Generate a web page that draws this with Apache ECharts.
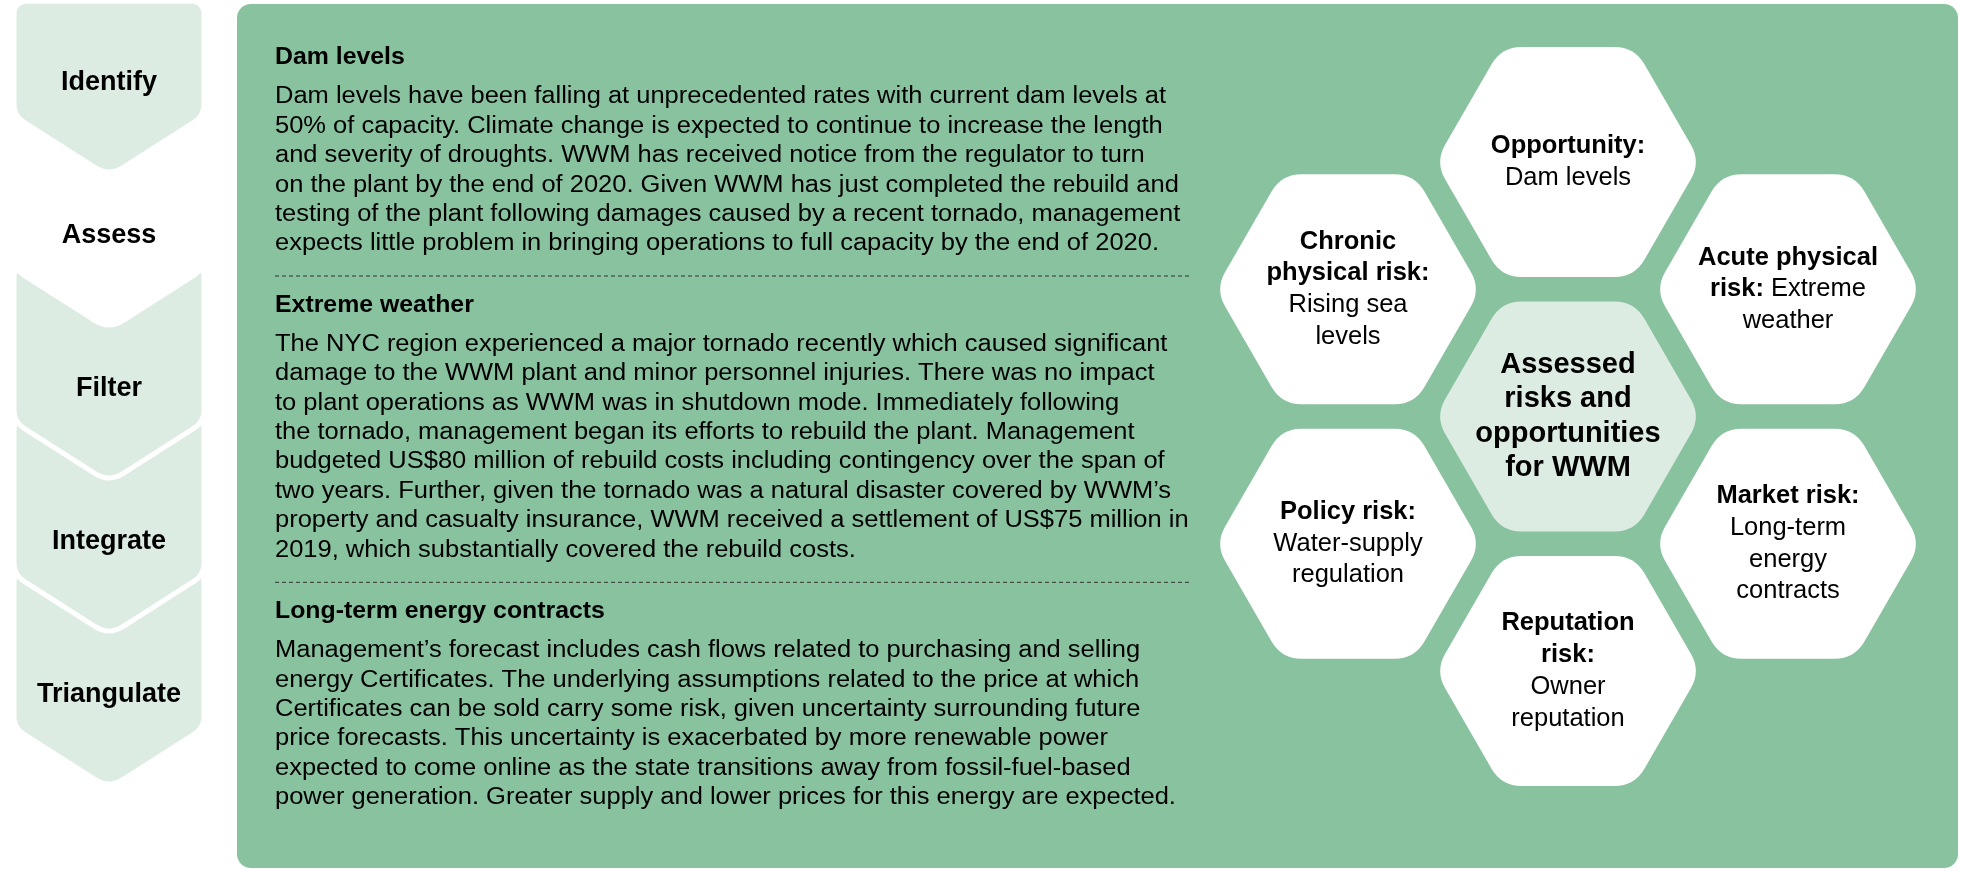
<!DOCTYPE html>
<html>
<head>
<meta charset="utf-8">
<title>Assessed risks and opportunities for WWM</title>
<script src="https://cdn.jsdelivr.net/npm/echarts@6/dist/echarts.min.js"></script>
<style>
  html, body { margin: 0; padding: 0; background: #fff; }
  #main { width: 1963px; height: 870px; }
</style>
</head>
<body>
<div id="main"></div>
<script>
// process steps down the left side, the current one is drawn white
const steps = ['Identify', 'Assess', 'Filter', 'Integrate', 'Triangulate'];
const activeStep = 'Assess';

// honeycomb cells: column and row (side columns sit on half rows)
const hexCols = [0, 0, -1, 1, -1, 1, 0];
const hexRows = [0, -1, -0.5, -0.5, 0.5, 0.5, 1];
const hexLabels = [
  '{c|Assessed}\n{c|risks and}\n{c|opportunities}\n{c|for WWM}',
  '{b|Opportunity:}\n{r|Dam levels}',
  '{b|Chronic}\n{b|physical risk:}\n{r|Rising sea}\n{r|levels}',
  '{b|Acute physical}\n{b|risk:}{r| Extreme}\n{r|weather}',
  '{b|Policy risk:}\n{r|Water-supply}\n{r|regulation}',
  '{b|Market risk:}\n{r|Long-term}\n{r|energy}\n{r|contracts}',
  '{b|Reputation}\n{b|risk:}\n{r|Owner}\n{r|reputation}'
];

const sectionTitles = ['Dam levels', 'Extreme weather', 'Long-term energy contracts'];
const sectionLines = [
  [
    'Dam levels have been falling at unprecedented rates with current dam levels at',
    '50% of capacity. Climate change is expected to continue to increase the length',
    'and severity of droughts. WWM has received notice from the regulator to turn',
    'on the plant by the end of 2020. Given WWM has just completed the rebuild and',
    'testing of the plant following damages caused by a recent tornado, management',
    'expects little problem in bringing operations to full capacity by the end of 2020.'
  ],
  [
    'The NYC region experienced a major tornado recently which caused significant',
    'damage to the WWM plant and minor personnel injuries. There was no impact',
    'to plant operations as WWM was in shutdown mode. Immediately following',
    'the tornado, management began its efforts to rebuild the plant. Management',
    'budgeted US$80 million of rebuild costs including contingency over the span of',
    'two years. Further, given the tornado was a natural disaster covered by WWM\u2019s',
    'property and casualty insurance, WWM received a settlement of US$75 million in',
    '2019, which substantially covered the rebuild costs.'
  ],
  [
    'Management\u2019s forecast includes cash flows related to purchasing and selling',
    'energy Certificates. The underlying assumptions related to the price at which',
    'Certificates can be sold carry some risk, given uncertainty surrounding future',
    'price forecasts. This uncertainty is exacerbated by more renewable power',
    'expected to come online as the state transitions away from fossil-fuel-based',
    'power generation. Greater supply and lower prices for this energy are expected.'
  ]
];

const FONT = '"Liberation Sans", Arial, Helvetica, sans-serif';
const PANEL = '#89c29f';
const PALE = '#ddece2';

// polygon with rounded corners (quadratic curve at each vertex)
function roundedPoints(pts, radii) {
  const out = [];
  const n = pts.length;
  for (let i = 0; i < n; i++) {
    const p = pts[i], a = pts[(i - 1 + n) % n], b = pts[(i + 1) % n];
    const r = radii[i];
    const da = Math.hypot(a[0] - p[0], a[1] - p[1]);
    const db = Math.hypot(b[0] - p[0], b[1] - p[1]);
    const p1 = [p[0] + (a[0] - p[0]) * r / da, p[1] + (a[1] - p[1]) * r / da];
    const p2 = [p[0] + (b[0] - p[0]) * r / db, p[1] + (b[1] - p[1]) * r / db];
    for (let k = 0; k <= 8; k++) {
      const t = k / 8, u = 1 - t;
      out.push([
        u * u * p1[0] + 2 * u * t * p[0] + t * t * p2[0],
        u * u * p1[1] + 2 * u * t * p[1] + t * t * p2[1]
      ]);
    }
  }
  return out;
}

// text panel built from the section arrays
const LINE_H = 29.4;
const TEXT_X = 275;
const panelText = [];
let y = 58;
sectionTitles.forEach(function (title, i) {
  const lines = sectionLines[i];
  // the original face is wider than Liberation Sans, stretch a little
  panelText.push({
    type: 'text',
    x: TEXT_X, y: y, scaleX: 1.08,
    style: { text: title, x: 0, y: 0, verticalAlign: 'middle', fill: '#000',
      font: 'bold 23px ' + FONT }
  });
  const first = y + 39;
  panelText.push({
    type: 'text',
    x: TEXT_X, y: first - LINE_H / 2, scaleX: 1.108,
    style: { text: lines.join('\n'), x: 0, y: 0, verticalAlign: 'top',
      lineHeight: LINE_H, fill: '#000', font: '23px ' + FONT }
  });
  const last = first + (lines.length - 1) * LINE_H;
  if (i < sectionTitles.length - 1) {
    const dash = last + 32;
    panelText.push({
      type: 'line',
      shape: { x1: TEXT_X, y1: dash, x2: 1189, y2: dash },
      style: { stroke: '#333', lineWidth: 1, lineDash: [4, 3] }
    });
    y = dash + 29.5;
  }
});

const chart = echarts.init(document.getElementById('main'));
chart.setOption({
  backgroundColor: '#fff',
  animation: false,
  graphic: {
    elements: [
      { type: 'rect', z: -10, shape: { x: 237, y: 4, width: 1721, height: 864, r: 14 },
        style: { fill: PANEL } }
    ].concat(panelText)
  },
  grid: [
    { left: 14, width: 190, top: 6.5, height: 765, show: false },
    { left: 1238, width: 660, top: 34.75, height: 763.5, show: false }
  ],
  xAxis: [
    { gridIndex: 0, type: 'value', min: 0, max: 1, show: false },
    { gridIndex: 1, type: 'value', min: -1.5, max: 1.5, show: false }
  ],
  yAxis: [
    { gridIndex: 0, type: 'category', data: steps, inverse: true, show: false },
    { gridIndex: 1, type: 'value', min: -1.5, max: 1.5, inverse: true, show: false }
  ],
  series: [
    {
      type: 'custom',
      name: 'steps',
      xAxisIndex: 0,
      yAxisIndex: 0,
      silent: true,
      data: steps.map(function (s, i) { return [0.5, i]; }),
      renderItem: function (params, api) {
        const c = api.coord([api.value(0), api.value(1)]);
        const w = api.size([1, 0])[0];
        const step = api.size([0, 1])[1];
        const idx = params.dataIndex;
        const left = c[0] - w / 2, right = c[0] + w / 2;
        const top = idx === 0 ? c[1] - 0.535 * step : c[1] - 0.82 * step;
        const side = c[1] + 0.215 * step;
        const tip = c[1] + 0.61 * step;
        const pts = roundedPoints(
          [[left, top], [right, top], [right, side], [c[0], tip], [left, side]],
          [14, 14, 12, 16, 12]
        );
        const name = steps[idx];
        return {
          type: 'group',
          children: [
            { type: 'polygon', z2: (10 - idx) * 2, shape: { points: pts },
              style: { fill: name === activeStep ? '#fff' : PALE, stroke: '#fff', lineWidth: 5 } },
            { type: 'text', z2: (10 - idx) * 2 + 1,
              style: { text: name, x: c[0], y: c[1], align: 'center', verticalAlign: 'middle',
                fill: '#000', font: 'bold 27px ' + FONT } }
          ]
        };
      }
    },
    {
      type: 'custom',
      name: 'risks',
      xAxisIndex: 1,
      yAxisIndex: 1,
      silent: true,
      data: hexCols.map(function (col, i) { return [col, hexRows[i]]; }),
      renderItem: function (params, api) {
        const c = api.coord([api.value(0), api.value(1)]);
        const rowH = api.size([0, 1])[1];
        const R = rowH * 0.522;
        const h = R * Math.sqrt(3) / 2;
        const pts = roundedPoints([
          [c[0] - R, c[1]], [c[0] - R / 2, c[1] - h], [c[0] + R / 2, c[1] - h],
          [c[0] + R, c[1]], [c[0] + R / 2, c[1] + h], [c[0] - R / 2, c[1] + h]
        ], [20, 20, 20, 20, 20, 20]);
        const isCenter = params.dataIndex === 0;
        return {
          type: 'group',
          children: [
            { type: 'polygon', shape: { points: pts },
              style: { fill: isCenter ? PALE : '#fff' } },
            { type: 'text', z2: 5,
              style: {
                text: hexLabels[params.dataIndex], x: c[0], y: c[1],
                align: 'center', verticalAlign: 'middle',
                rich: {
                  b: { fontFamily: FONT, fontWeight: 'bold', fontSize: 25.5, lineHeight: 31.7, fill: '#000', align: 'center' },
                  r: { fontFamily: FONT, fontSize: 25.5, lineHeight: 31.7, fill: '#000', align: 'center' },
                  c: { fontFamily: FONT, fontWeight: 'bold', fontSize: 29, lineHeight: 34.5, fill: '#000', align: 'center' }
                }
              } }
          ]
        };
      }
    }
  ]
});
</script>
</body>
</html>
